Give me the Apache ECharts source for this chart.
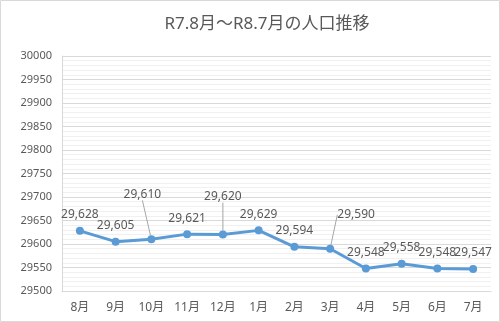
<!DOCTYPE html>
<html>
  <head>
    <meta charset="utf-8" />
    <title>R7.8月～R8.7月の人口推移</title>
    <script src="https://cdn.jsdelivr.net/npm/echarts@6/dist/echarts.min.js"></script>
    <style>
      html, body { margin: 0; padding: 0; background: #fff; }
      #main { width: 500px; height: 322px; }
    </style>
  </head>
  <body>
    <div id="main"></div>
    <script>
      // data
      var months = ['8月', '9月', '10月', '11月', '12月', '1月', '2月', '3月', '4月', '5月', '6月', '7月'];
      var population = [29628, 29605, 29610, 29621, 29620, 29629, 29594, 29590, 29548, 29558, 29548, 29547];
      // labels moved away from their point, with a leader line (index: [dx, dy])
      var movedLabels = { 2: [-9, -29], 4: [0, -22], 7: [26, -18] };

      var textColor = '#595959';
      var font = "'Noto Sans', 'Noto Sans CJK JP', sans-serif";

      var chart = echarts.init(document.getElementById('main'));
      var option = {
        animation: false,
        graphic: [{
          type: 'rect',
          shape: { x: 0.5, y: 0.5, width: 499, height: 321 },
          style: { fill: 'none', stroke: '#d9d9d9', lineWidth: 1 },
          silent: true
        }],
        title: {
          text: 'R7.8月～R8.7月の人口推移',
          left: 262,
          textAlign: 'center',
          top: 11,
          textStyle: {
            color: textColor,
            fontSize: 17,
            fontWeight: 'normal',
            fontFamily: font
          }
        },
        grid: {
          left: 62,
          right: 9,
          top: 56,
          bottom: 31,
          containLabel: false
        },
        xAxis: {
          type: 'category',
          data: months,
          boundaryGap: true,
          axisLine: { lineStyle: { color: '#d9d9d9' } },
          axisTick: { show: false },
          axisLabel: {
            color: textColor,
            fontSize: 12,
            fontFamily: font,
            margin: 11
          }
        },
        yAxis: {
          type: 'value',
          min: 29500,
          max: 30000,
          interval: 50,
          axisLine: { show: true, lineStyle: { color: '#d9d9d9' } },
          axisTick: { show: false },
          axisLabel: {
            color: textColor,
            fontSize: 11,
            fontFamily: font,
            margin: 10,
            formatter: function (v) { return String(v); }
          },
          splitLine: { lineStyle: { color: '#d9d9d9', width: 1 } },
          minorTick: { show: false, splitNumber: 5 },
          minorSplitLine: { show: true, lineStyle: { color: '#f0f0f0', width: 1 } }
        },
        series: [{
          type: 'line',
          data: population.map(function (v, i) {
            var item = { value: v };
            if (movedLabels[i]) {
              item.labelLine = { show: true, lineStyle: { color: '#a6a6a6', width: 1 } };
            }
            return item;
          }),
          symbol: 'circle',
          symbolSize: 8,
          lineStyle: { color: '#5b9bd5', width: 3 },
          itemStyle: { color: '#5b9bd5' },
          label: {
            show: true,
            position: 'top',
            distance: 6,
            color: textColor,
            fontSize: 12,
            fontFamily: font,
            formatter: function (p) {
              return p.value.toLocaleString('en-US');
            }
          },
          labelLine: { show: false },
          labelLayout: function (params) {
            var m = movedLabels[params.dataIndex];
            if (m) {
              return { dx: m[0], dy: m[1] };
            }
            return {};
          }
        }]
      };
      chart.setOption(option);
    </script>
  </body>
</html>
